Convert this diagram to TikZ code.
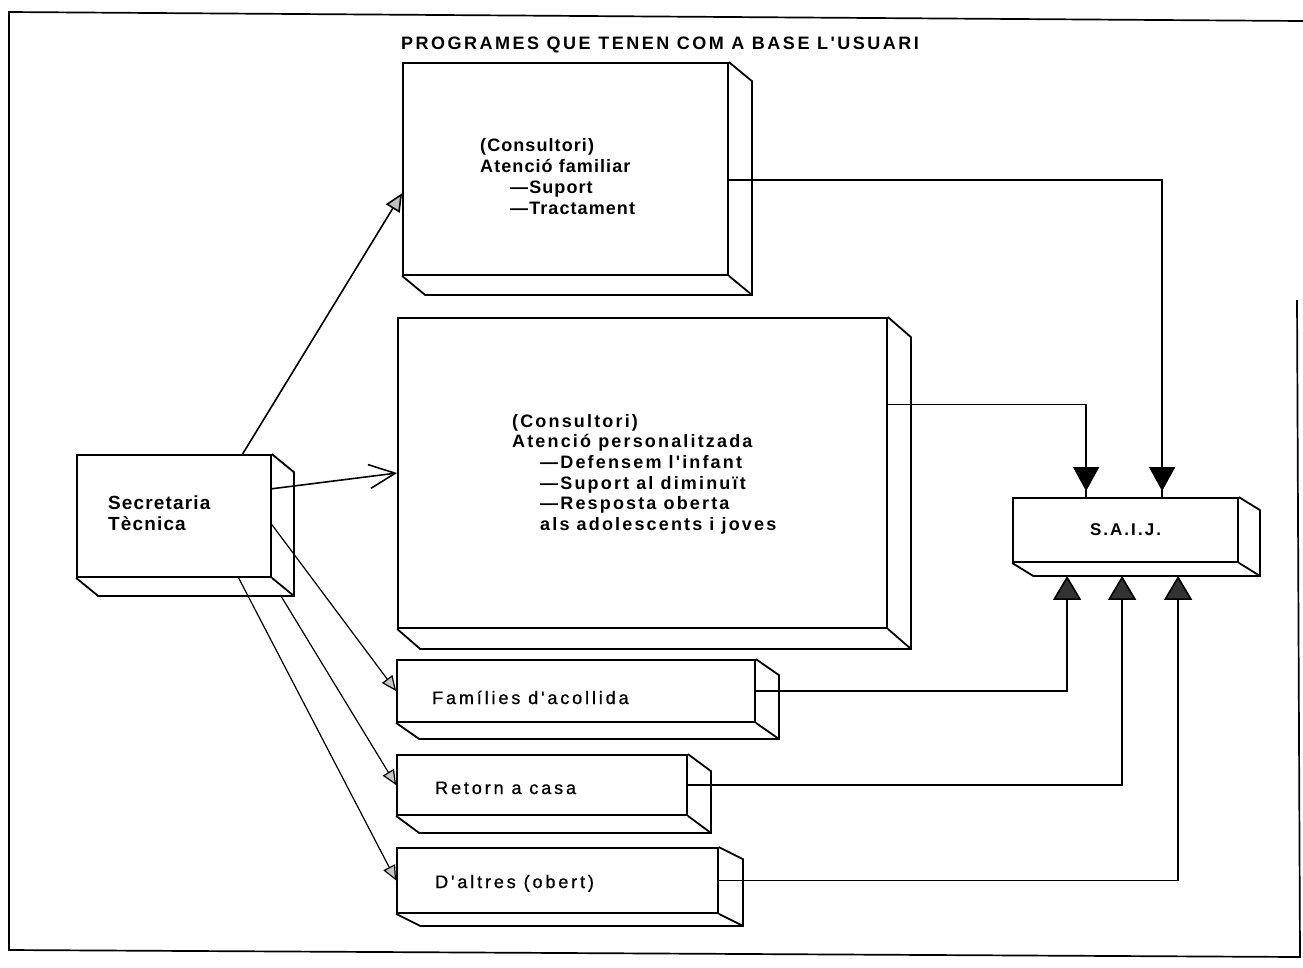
\documentclass[tikz,border=0pt]{standalone}
\usepackage{fontspec}
\setmainfont{Liberation Sans}
\newfontfamily\boxafont{Liberation Sans Bold}[LetterSpace=6]
\newfontfamily\boxbfont{Liberation Sans Bold}[LetterSpace=12]
\newfontfamily\secfont{Liberation Sans Bold}[LetterSpace=6]
\newfontfamily\saijfont{Liberation Sans Bold}[LetterSpace=12]
\newfontfamily\lowfont{Liberation Sans}[LetterSpace=16,FakeBold=0.8]
\newfontfamily\titlefont{Liberation Sans Bold}[LetterSpace=14]
\usetikzlibrary{arrows.meta,calc,decorations.markings}
\newcommand\extrudebox[3]{%
  \draw[boxline] (#1.north east) -- ++(#2,#3) -- ($(#1.south east)+(#2,#3)$) -- ($(#1.south west)+(#2,#3)$) -- (#1.south west);
  \draw[boxline] (#1.south east) -- ++(#2,#3);
}
\begin{document}
\begin{tikzpicture}[x=1pt,y=-1pt,
  boxline/.style={line width=1.8pt, line join=miter},
  box3d/.style={draw, line width=1.8pt, inner sep=0pt, rectangle},
  conn/.style={line width=1.6pt},
  thinconn/.style={line width=1.2pt},
  txt/.style={inner sep=0pt, anchor=north west, align=left},
  lowtxt/.style={inner sep=0pt, anchor=base west, font=\lowfont\fontsize{18}{21}\selectfont},
  downhead/.style={postaction=decorate, decoration={markings, mark=at position -6pt with {\arrow[fill=black!80]{Triangle[width=26pt,length=24pt]}}}},
  uphead/.style={-{Triangle[width=28pt,length=24pt,fill=black!80]}},
  smallhead/.style={-{Triangle[width=13pt,length=15pt,fill=gray!45]}}
]
\useasboundingbox (0,0) rectangle (1303,967);
% frame
\draw[line width=1.7pt] (1297,300) -- (1300,957) -- (9,950) -- (9,12) -- (1303,21);
% title
\node[inner sep=0pt, font=\titlefont\fontsize{18}{21}\selectfont] (title) at (660,45) {PROGRAMES QUE TENEN COM A BASE L'USUARI};

% boxes
\node[box3d, minimum width=325, minimum height=212] (b1) at (565.5,169) {};
\extrudebox{b1}{23}{19}
\node[box3d, minimum width=489, minimum height=310] (b2) at (642.5,473) {};
\extrudebox{b2}{23}{20}
\node[box3d, minimum width=194, minimum height=122] (sec) at (174,516) {};
\extrudebox{sec}{22}{18}
\node[box3d, minimum width=225, minimum height=64, font=\saijfont\fontsize{17}{20}\selectfont] (saij) at (1125.5,530) {S.A.I.J.};
\extrudebox{saij}{21}{13}
\node[box3d, minimum width=358, minimum height=62] (fam) at (576,691) {};
\extrudebox{fam}{23}{16}
\node[box3d, minimum width=290, minimum height=60] (ret) at (542,785) {};
\extrudebox{ret}{23}{17}
\node[box3d, minimum width=321, minimum height=65] (dal) at (557.5,880.5) {};
\extrudebox{dal}{24}{12}

% texts
\node[txt, font=\boxafont\fontsize{18}{21}\selectfont] (t1) at (480,136.8)
  {\strut(Consultori)\\Atenció familiar\\\hspace*{30pt}—Suport\\\hspace*{30pt}—Tractament};
\node[txt, font=\boxbfont\fontsize{18}{20.6}\selectfont] (t2) at (512,412.6)
  {\strut(Consultori)\\Atenció personalitzada\\\hspace*{28pt}—Defensem l'infant\\\hspace*{28pt}—Suport al diminuït\\\hspace*{28pt}—Resposta oberta\\\hspace*{28pt}als adolescents i joves};
\node[txt, font=\secfont\fontsize{19}{21}\selectfont] (tsec) at (108,494.3)
  {\strut Secretaria\\Tècnica};
\node[lowtxt] (tfam) at (432,704) {Famílies d'acollida};
\node[lowtxt] (tret) at (435,794) {Retorn a casa};
\node[lowtxt] (tdal) at (435,888) {D'altres (obert)};

% SAIJ ports
\coordinate (sj1) at ($(saij.north west)+(74,0)$);
\coordinate (sj2) at ($(saij.north west)+(150,0)$);
\coordinate (su1) at ($(saij.south west)+(55,13)$);
\coordinate (su2) at ($(saij.south west)+(110,13)$);
\coordinate (su3) at ($(saij.south west)+(166,13)$);

% connectors to SAIJ
\draw[conn, downhead] ($(b1.north east)!0.552!(b1.south east)$) -| (sj2);
\draw[conn, downhead] ($(b2.north east)!0.28!(b2.south east)$) -| (sj1);
\draw[conn, uphead] (fam.east) -| (su1);
\draw[conn, uphead] (ret.east) -| (su2);
\draw[conn, uphead] (dal.east) -| (su3);

% connectors from Secretaria
\draw[conn, -{Triangle[length=18pt,width=16pt,fill=gray!50]}] ($(sec.north west)!0.85!(sec.north east)$) -- ($(b1.south west)!0.387!(b1.north west)$);
\draw[conn, -{Straight Barb[length=26pt,width=24pt]}] ($(sec.north east)!0.28!(sec.south east)$) -- (b2.west);
\draw[thinconn, smallhead] ($(sec.north east)!0.57!(sec.south east)$) -- (fam.west);
\draw[thinconn, smallhead] ($(sec.south east)+(9,18)$) -- (ret.west);
\draw[thinconn, smallhead] ($(sec.south west)!0.83!(sec.south east)$) -- (dal.west);
\end{tikzpicture}
\end{document}
